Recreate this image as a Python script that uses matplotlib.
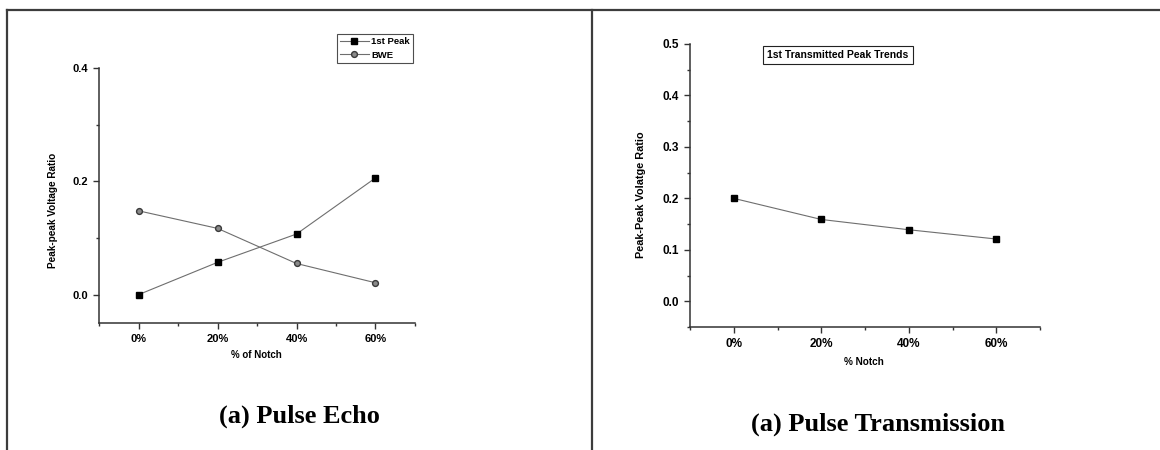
import numpy as np
import matplotlib
matplotlib.use("Agg")
import matplotlib.pyplot as plt
from matplotlib.lines import Line2D
from matplotlib.ticker import MultipleLocator, FuncFormatter

# data
notch = [0, 20, 40, 60]
first_peak = [0.0, 0.057, 0.107, 0.206]
bwe = [0.148, 0.117, 0.055, 0.021]
transmitted_peak = [0.200, 0.159, 0.139, 0.121]

plt.rcParams['font.family'] = ['Liberation Sans', 'DejaVu Sans']

W, H = 1160, 450
fig = plt.figure(figsize=(W / 100, H / 100), dpi=100)

def fx(px):
    return px / W

def fy(py):
    return 1 - py / H

# outer frame and divider
frame_kw = dict(color='#3c3c3c', linewidth=1.6, transform=fig.transFigure)
fig.add_artist(Line2D([fx(7), 1.0], [fy(10), fy(10)], **frame_kw))
fig.add_artist(Line2D([fx(7), fx(7)], [fy(10), 0.0], **frame_kw))
fig.add_artist(Line2D([fx(592), fx(592)], [fy(10), 0.0], **frame_kw))

pct = FuncFormatter(lambda v, p: f"{v:.0f}%")

def style_axes(ax, ymajor, yminor, size):
    for s in ['top', 'right']:
        ax.spines[s].set_visible(False)
    for s in ['left', 'bottom']:
        ax.spines[s].set_linewidth(1.1)
        ax.spines[s].set_color('#333333')
    ax.set_xlim(-10, 70)
    ax.xaxis.set_major_locator(MultipleLocator(20))
    ax.xaxis.set_minor_locator(MultipleLocator(10))
    ax.xaxis.set_major_formatter(pct)
    ax.yaxis.set_major_locator(MultipleLocator(ymajor))
    ax.yaxis.set_minor_locator(MultipleLocator(yminor))
    ax.yaxis.set_major_formatter(FuncFormatter(lambda v, p: f"{v:.1f}"))
    ax.tick_params(which='major', direction='out', length=4, width=1, color='#333333',
                   labelsize=size, pad=4)
    ax.tick_params(which='minor', direction='out', length=2.5, width=1, color='#333333')
    for lab in ax.get_xticklabels() + ax.get_yticklabels():
        lab.set_fontweight('bold')

# (a) Pulse Echo
ax1 = fig.add_axes([fx(99), fy(323), fx(415 - 99), (323 - 68) / H])
ax1.plot(notch, first_peak, color='#6e6e6e', linewidth=0.8, marker='s', markersize=4,
         markerfacecolor='black', markeredgecolor='black', label='1st Peak')
ax1.plot(notch, bwe, color='#6e6e6e', linewidth=0.8, marker='o', markersize=4.2,
         markerfacecolor='#8a8a8a', markeredgecolor='#3a3a3a', label='BWE')
ax1.set_ylim(-0.05, 0.4)
style_axes(ax1, 0.2, 0.1, 8)
ax1.set_ylabel('Peak-peak Voltage Ratio', fontsize=7.2, fontweight='bold', va='center')
ax1.set_xlabel('% of Notch', fontsize=7, fontweight='bold', va='center')
ax1.yaxis.set_label_coords((53 - 99) / 316, (323 - 210) / 255)
ax1.xaxis.set_label_coords((256 - 99) / 316, (323 - 355) / 255)
leg = ax1.legend(loc='upper left', bbox_to_anchor=((337 - 99) / 316, (323 - 34) / 255),
                 borderaxespad=0, frameon=True, fancybox=False, fontsize=6.8,
                 handlelength=3.0, handletextpad=0.3, borderpad=0.35, labelspacing=0.45)
leg.get_frame().set_edgecolor('#222222')
leg.get_frame().set_linewidth(0.8)
for t in leg.get_texts():
    t.set_fontweight('bold')

# (a) Pulse Transmission
ax2 = fig.add_axes([fx(690), fy(327), fx(1040 - 690), (327 - 44) / H])
ax2.plot(notch, transmitted_peak, color='#6e6e6e', linewidth=0.8, marker='s', markersize=4,
         markerfacecolor='black', markeredgecolor='black')
ax2.set_ylim(-0.05, 0.5)
style_axes(ax2, 0.1, 0.05, 8.5)
ax2.set_ylabel('Peak-Peak Volatge Ratio', fontsize=7.8, fontweight='bold', va='center')
ax2.set_xlabel('% Notch', fontsize=7.2, fontweight='bold', va='center')
ax2.yaxis.set_label_coords((641 - 690) / 350, (327 - 195) / 283)
ax2.xaxis.set_label_coords((864 - 690) / 350, (327 - 362) / 283)
ax2.text((838 - 690) / 350, (327 - 55) / 283, '1st Transmitted Peak Trends',
         transform=ax2.transAxes, ha='center', va='center', fontsize=7.5, fontweight='bold',
         bbox=dict(boxstyle='square,pad=0.4', facecolor='white', edgecolor='#222222',
                   linewidth=0.8))

title_kw = dict(family=['Liberation Serif', 'DejaVu Serif'], fontweight='bold',
                fontsize=19, ha='center', va='center')
fig.text(fx(299), fy(416), '(a) Pulse Echo', **title_kw)
fig.text(fx(878), fy(424), '(a) Pulse Transmission', **title_kw)

fig.savefig('out.png', dpi=100)
